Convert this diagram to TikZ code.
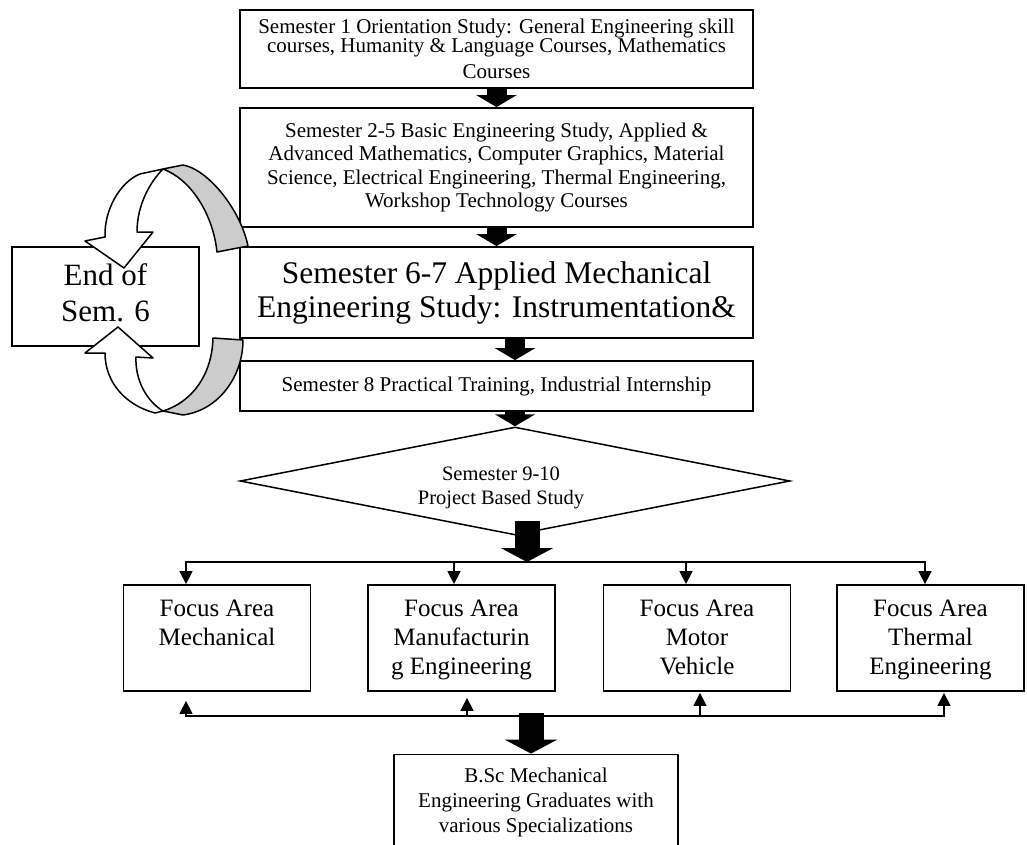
\documentclass[tikz,border=0pt]{standalone}
\usepackage{fontspec}
\setmainfont{Liberation Serif}
\usetikzlibrary{arrows.meta,shapes.geometric}
\definecolor{ringgray}{RGB}{204,204,204}
\newcommand{\fstrut}{\rule[-6pt]{0pt}{27pt}}

\begin{document}
\begin{tikzpicture}[x=1pt,y=-1pt,
  sembox/.style={draw,line width=1.8pt,inner sep=0pt,align=center,minimum width=513pt},
  focusbox/.style={draw,line width=1.8pt,inner sep=0pt,align=center,minimum width=187pt,minimum height=106pt,font={\fontsize{25}{29}\selectfont}},
  blockarrow/.style={line width=20pt,-{Triangle[length=12pt,width=40pt]}},
  bigarrow/.style={line width=25pt,-{Triangle[length=14pt,width=52pt]}},
  thinarrow/.style={line width=1.5pt,-{Triangle[length=13pt,width=13pt]}},
  ribbon/.style={line width=1.5pt,line join=round}]
\useasboundingbox (0,0) rectangle (1027,845);

\node[sembox,minimum height=78pt,font={\fontsize{21}{19}\selectfont\lineskiplimit=-20pt}] (sem1) at (496.5,49)
  {Semester 1 Orientation Study: General Engineering skill\\courses, Humanity \& Language Courses, Mathematics\\[7pt]Courses};
\node[sembox,minimum height=119pt,font={\fontsize{21}{23.5}\selectfont}] (sem25) at (496.5,167.5)
  {Semester 2-5 Basic Engineering Study, Applied \&\\Advanced Mathematics, Computer Graphics, Material\\Science, Electrical Engineering, Thermal Engineering,\\Workshop Technology Courses};
\node[sembox,minimum height=91pt,font={\fontsize{31.5}{34}\selectfont}] (sem67) at (496.5,292.5)
  {Semester 6-7 Applied Mechanical\\Engineering Study: Instrumentation\&};
\node[sembox,minimum height=50pt,font={\fontsize{21}{24}\selectfont}] (sem8) at (496.5,386)
  {Semester 8 Practical Training, Industrial Internship};
\node[draw,line width=1.8pt,inner sep=0pt,align=center,minimum width=187pt,minimum height=99pt,font={\fontsize{31}{36}\selectfont}] (endsem) at (105.5,296.5)
  {End of\\Sem. 6\rule[-8pt]{0pt}{8pt}};
\node[diamond,draw,line width=1.5pt,inner sep=0pt,aspect=5.1,minimum width=550pt,minimum height=108pt,align=center,font={\fontsize{20.5}{24}\selectfont}] (proj) at (515,481)
  {\hspace*{-28pt}\rule{0pt}{27pt}Semester 9-10\\\hspace*{-28pt}Project Based Study};

\node[focusbox] (focA) at (217,638) {\fstrut Focus Area\\\fstrut Mechanical\\\fstrut};
\node[focusbox] (focB) at (461.5,638) {\fstrut Focus Area\\\fstrut Manufacturin\\\fstrut g Engineering};
\node[focusbox] (focC) at (697,638) {\fstrut Focus Area\\\fstrut Motor\\\fstrut Vehicle};
\node[focusbox] (focD) at (930.5,638) {\fstrut Focus Area\\\fstrut Thermal\\\fstrut Engineering};
\node[draw,line width=1.8pt,inner sep=0pt,align=center,minimum width=284pt,minimum height=95pt,font={\fontsize{21}{25}\selectfont}] (bsc) at (536,802)
  {B.Sc Mechanical\\Engineering Graduates with\\various Specializations};

\draw [blockarrow] (sem1.south) -- (sem25.north);
\draw [blockarrow] (sem25.south) -- (sem67.north);
\draw [blockarrow] ([xshift=18.5pt]sem67.south) -- ([xshift=18.5pt]sem8.north);
\draw [blockarrow] ([xshift=18.5pt]sem8.south) -- (proj.north);

\coordinate (split) at (527,562);
\coordinate (merge) at (531,716);
\draw [bigarrow] ([xshift=12pt,yshift=15pt]proj.south) -- (split);
\draw [thinarrow] (split) -| ([xshift=-31pt]focA.north);
\draw [thinarrow] (split) -| ([xshift=-7.5pt]focB.north);
\draw [thinarrow] (split) -| ([xshift=-11pt]focC.north);
\draw [thinarrow] (split) -| ([xshift=-5.5pt]focD.north);
\draw [thinarrow] (merge) -| ([xshift=-31pt,yshift=-9pt]focA.south);
\draw [thinarrow] (merge) -| ([xshift=5.5pt,yshift=-6pt]focB.south);
\draw [thinarrow] (merge) -| ([xshift=3pt,yshift=-1pt]focC.south);
\draw [thinarrow] (merge) -| ([xshift=13.5pt,yshift=-1pt]focD.south);
\draw [bigarrow] ([yshift=3pt]merge) -- (merge |- bsc.north);

% loop back to end of semester 6
\draw [ribbon,fill=ringgray] (163,169) -- (183,165) .. controls (207,169) and (240,208) .. (248,246)
  -- (217,252) .. controls (213,215) and (192,180) .. cycle;
\draw [ribbon,fill=white] (140,174) .. controls (120,182) and (104,210) .. (105,237) -- (85,241) -- (124,268)
  -- (153,232) -- (137,232) .. controls (137,205) and (150,182) .. (163,169) -- cycle;
\draw [ribbon,fill=ringgray] (213,338) -- (243,340) .. controls (243,375) and (220,410) .. (183,415)
  -- (163,411) .. controls (192,402) and (212,375) .. cycle;
\draw [ribbon,fill=white] (155,413) .. controls (125,405) and (105,382) .. (105,353) -- (85,353) -- (118,327)
  -- (153,358) -- (136,357) .. controls (135,378) and (145,400) .. (163,411) -- cycle;
\end{tikzpicture}
\end{document}
